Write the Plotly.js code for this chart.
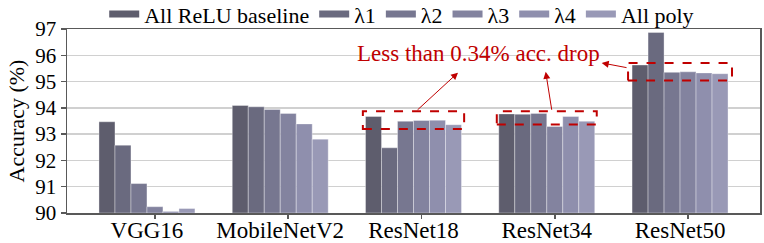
<!DOCTYPE html>
<html>
<head>
<meta charset="utf-8">
<script src="https://cdn.plot.ly/plotly-3.0.1.min.js"></script>
<style>html,body{margin:0;padding:0;background:#fff}#chart{width:764px;height:243px}</style>
</head>
<body>
<div id="chart"></div>
<script>
const categories = ['VGG16', 'MobileNetV2', 'ResNet18', 'ResNet34', 'ResNet50'];
const seriesNames = ['All ReLU baseline', 'λ1', 'λ2', 'λ3', 'λ4', 'All poly'];
const allRelu = [93.47, 94.09, 93.67, 93.77, 95.63];
const lambda1 = [92.58, 94.04, 92.48, 93.76, 96.87];
const lambda2 = [91.12, 93.94, 93.49, 93.79, 95.35];
const lambda3 = [90.24, 93.79, 93.52, 93.29, 95.37];
const lambda4 = [90.06, 93.39, 93.53, 93.67, 95.33];
const allPoly = [90.17, 92.81, 93.36, 93.49, 95.30];
const yTicks = [90, 91, 92, 93, 94, 95, 96, 97];

const colors = ['#5e5d6d', '#6a6a7f', '#777790', '#83839f', '#8f8fad', '#9999b6'];
const seriesValues = [allRelu, lambda1, lambda2, lambda3, lambda4, allPoly];
const xIdx = categories.map((c, i) => i);
const FONT = 'Liberation Serif, Times New Roman, serif';
const RED = '#c00000';

const traces = [];
seriesValues.forEach((vals, k) => {
  traces.push({
    type: 'bar', x: xIdx, y: vals.map(v => v - 90), base: 90,
    name: seriesNames[k], legendgroup: 'g' + k,
    showlegend: false, hoverinfo: 'skip',
    marker: {color: colors[k], line: {color: 'rgba(255,255,255,0.35)', width: 1}}
  });
});
seriesValues.forEach((vals, k) => {
  traces.push({
    type: 'scatter', mode: 'lines', x: [null], y: [null], name: seriesNames[k],
    legendgroup: 'g' + k, showlegend: true,
    line: {color: colors[k], width: 7}
  });
});

// highlighted groups (ResNet18, ResNet34, ResNet50)
const boxes = [
  {i: 2, half: 0.38, lo: 93.20, hi: 93.87},
  {i: 3, half: 0.375, lo: 93.37, hi: 93.87},
  {i: 4, half: 0.39, lo: 95.04, hi: 95.71}
];
const shapes = boxes.map(b => ({
  type: 'rect', xref: 'x', yref: 'y', x0: b.i - b.half, x1: b.i + b.half, y0: b.lo, y1: b.hi,
  line: {color: RED, width: 2, dash: 'dash'}, fillcolor: 'rgba(0,0,0,0)', layer: 'above'
}));

const arrows = [
  {x: 2.334, y: 95.34, ax: 2.019, ay: 93.87},
  {x: 2.992, y: 95.37, ax: 3.039, ay: 93.87},
  {x: 3.412, y: 95.71, ax: 3.61, ay: 95.52}
];
const annotations = arrows.map(a => ({
  xref: 'x', yref: 'y', axref: 'x', ayref: 'y', x: a.x, y: a.y, ax: a.ax, ay: a.ay,
  text: '', showarrow: true, arrowhead: 2, arrowsize: 1.4, arrowwidth: 1, arrowcolor: RED
}));
annotations.push({
  xref: 'x', yref: 'y', x: 2.49, y: 96.05, text: 'Less than 0.34% acc. drop',
  showarrow: false, font: {family: FONT, size: 23, color: RED}
});

const layout = {
  width: 764, height: 243,
  margin: {l: 67, r: 4, t: 29, b: 30, pad: 0, autoexpand: false},
  paper_bgcolor: '#ffffff', plot_bgcolor: '#ffffff',
  font: {family: FONT, color: '#000000'},
  barmode: 'group', bargap: 0.28, bargroupgap: 0,
  showlegend: true,
  legend: {
    orientation: 'h', x: 0.483, xanchor: 'center', y: 1.08, yanchor: 'middle',
    font: {family: FONT, size: 22, color: '#000'}, itemwidth: 30,
    bgcolor: 'rgba(0,0,0,0)', traceorder: 'normal'
  },
  xaxis: {
    range: [-0.6, 4.6], tickvals: xIdx, ticktext: categories,
    ticks: '', showgrid: false, zeroline: false, ticklabelstandoff: -4,
    showline: true, linecolor: '#595959', linewidth: 1.5, mirror: true,
    tickfont: {family: FONT, size: 23, color: '#000'}
  },
  xaxis2: {
    overlaying: 'x', anchor: 'y', side: 'bottom', range: [-0.6, 4.6],
    tickvals: xIdx.map(i => i + 0.06), showticklabels: false,
    ticks: 'outside', ticklen: 5, tickcolor: '#595959', tickwidth: 1.5,
    showgrid: false, zeroline: false, showline: false
  },
  yaxis: {
    range: [90, 97], tickvals: yTicks, ticks: 'outside', ticklen: 5,
    tickcolor: '#595959', tickwidth: 1.5,
    showline: true, linecolor: '#595959', linewidth: 1.5, mirror: true,
    showgrid: true, gridcolor: '#d0d0d0', gridwidth: 1.5, zeroline: false,
    tickfont: {family: FONT, size: 21, color: '#000'},
    title: {text: 'Accuracy (%)', font: {family: FONT, size: 22, color: '#000'}, standoff: 4}
  },
  shapes: shapes,
  annotations: annotations
};
// dummy trace on xaxis2 so its ticks are drawn
traces.push({type: 'scatter', mode: 'none', x: [null], y: [null], xaxis: 'x2', showlegend: false, hoverinfo: 'skip'});

Plotly.newPlot('chart', traces, layout, {displayModeBar: false, staticPlot: true});
</script>
</body>
</html>
